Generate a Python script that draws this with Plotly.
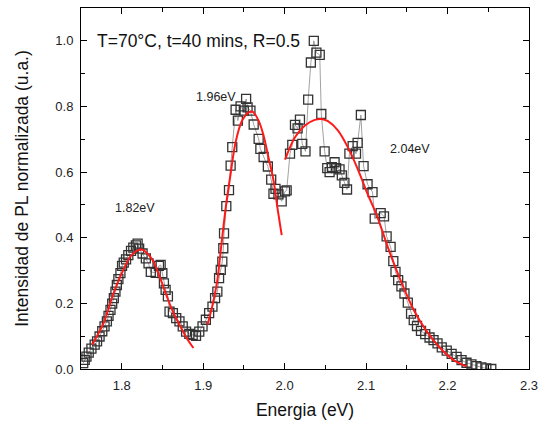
import plotly.graph_objects as go

# Measured PL data (energy in eV, normalized intensity)
energy = [1.7527, 1.7546, 1.7567, 1.7595, 1.7628, 1.7668, 1.7697, 1.7728, 1.7761, 1.7789,
          1.7818, 1.7838, 1.7862, 1.7883, 1.7903, 1.7923, 1.7940, 1.7959, 1.7984, 1.8004,
          1.8025, 1.8053, 1.8081, 1.8114, 1.8142, 1.8174, 1.8195, 1.8214, 1.8256, 1.8296,
          1.8329, 1.8357, 1.8417, 1.8457, 1.8478, 1.8499, 1.8518, 1.8539, 1.8567, 1.8587,
          1.8628, 1.8669, 1.8709, 1.8749, 1.8790, 1.8830, 1.8871, 1.8912, 1.8952, 1.8992,
          1.9033, 1.9073, 1.9114, 1.9146, 1.9174, 1.9195, 1.9216, 1.9235, 1.9247, 1.9256,
          1.9284, 1.9317, 1.9337, 1.9357, 1.9398, 1.9426, 1.9459, 1.9499, 1.9527, 1.9545,
          1.9580, 1.9620, 1.9681, 1.9702, 1.9742, 1.9794, 1.9835, 1.9863, 1.9888, 1.9924,
          1.9964, 2.0005, 2.0025, 2.0066, 2.0094, 2.0127, 2.0159, 2.0188, 2.0216, 2.0256,
          2.0289, 2.0322, 2.0358, 2.0390, 2.0431, 2.0450, 2.0491, 2.0523, 2.0552, 2.0580,
          2.0613, 2.0632, 2.0674, 2.0702, 2.0734, 2.0766, 2.0795, 2.0835, 2.0876, 2.0896,
          2.0936, 2.0969, 2.1018, 2.1079, 2.1106, 2.1179, 2.1220, 2.1252, 2.1301, 2.1334,
          2.1361, 2.1394, 2.1434, 2.1471, 2.1512, 2.1552, 2.1585, 2.1625, 2.1674, 2.1726,
          2.1779, 2.1828, 2.1877, 2.1929, 2.1990, 2.2050, 2.2111, 2.2172, 2.2233, 2.2294,
          2.2354, 2.2415, 2.2476, 2.2537]
intensity = [0.018, 0.028, 0.038, 0.050, 0.062, 0.074, 0.084, 0.099, 0.115, 0.130,
             0.145, 0.162, 0.180, 0.199, 0.216, 0.236, 0.256, 0.274, 0.292, 0.314,
             0.324, 0.334, 0.347, 0.360, 0.370, 0.377, 0.382, 0.367, 0.352, 0.337,
             0.322, 0.296, 0.293, 0.314, 0.317, 0.292, 0.261, 0.241, 0.221, 0.175,
             0.170, 0.155, 0.145, 0.130, 0.114, 0.107, 0.104, 0.101, 0.114, 0.130,
             0.150, 0.170, 0.190, 0.216, 0.236, 0.277, 0.302, 0.327, 0.368, 0.413,
             0.496, 0.545, 0.620, 0.676, 0.790, 0.757, 0.800, 0.787, 0.823, 0.797,
             0.787, 0.745, 0.701, 0.671, 0.646, 0.617, 0.577, 0.534, 0.549, 0.532,
             0.511, 0.541, 0.544, 0.656, 0.683, 0.744, 0.733, 0.760, 0.686, 0.663,
             0.821, 0.934, 1.000, 0.964, 0.957, 0.777, 0.663, 0.612, 0.600, 0.615,
             0.630, 0.612, 0.608, 0.590, 0.567, 0.547, 0.656, 0.679, 0.656, 0.689,
             0.774, 0.618, 0.563, 0.539, 0.458, 0.475, 0.465, 0.404, 0.372, 0.329,
             0.296, 0.271, 0.252, 0.230, 0.202, 0.169, 0.149, 0.131, 0.116, 0.106,
             0.096, 0.088, 0.078, 0.066, 0.056, 0.046, 0.037, 0.027, 0.019, 0.014,
             0.009, 0.005, 0.002, 0.000]

# Fitted peaks (red curves)
fit1_x = [1.7636, 1.7777, 1.7900, 1.8020, 1.8120, 1.8240, 1.8365, 1.8466, 1.8547, 1.8628, 1.8730, 1.8810, 1.8880]
fit1_y = [0.074, 0.140, 0.231, 0.302, 0.347, 0.364, 0.337, 0.281, 0.226, 0.175, 0.125, 0.089, 0.064]
fit2_x = [1.9053, 1.9110, 1.9174, 1.9216, 1.9278, 1.9337, 1.9398, 1.9478, 1.9560, 1.9608, 1.9680, 1.9742, 1.9800, 1.9863, 1.9916, 1.9964]
fit2_y = [0.135, 0.190, 0.271, 0.362, 0.494, 0.595, 0.691, 0.757, 0.782, 0.784, 0.757, 0.711, 0.646, 0.575, 0.484, 0.408]
fit3_x = [2.0005, 2.0127, 2.0249, 2.0370, 2.0450, 2.0532, 2.0653, 2.0775, 2.0896, 2.1018, 2.1139, 2.1280, 2.1422, 2.1585, 2.1747, 2.1909, 2.2071, 2.2233]
fit3_y = [0.638, 0.706, 0.742, 0.759, 0.762, 0.755, 0.727, 0.676, 0.610, 0.534, 0.463, 0.362, 0.271, 0.180, 0.114, 0.064, 0.028, 0.008]

peak_labels = ["1.82eV", "1.96eV", "2.04eV"]
peak_label_x = [1.8162, 1.9155, 2.1536]
peak_label_y = [0.492, 0.830, 0.669]

FONT = "Arial, Liberation Sans, sans-serif"

fig = go.Figure()
fig.add_trace(go.Scatter(
    x=energy, y=intensity, mode="lines+markers",
    line=dict(color="#8a8a8a", width=0.8),
    marker=dict(symbol="square-open", size=9, color="#333333", line=dict(width=1.3, color="#333333")),
    showlegend=False, hoverinfo="skip"))
for fx, fy in [(fit1_x, fit1_y), (fit2_x, fit2_y), (fit3_x, fit3_y)]:
    fig.add_trace(go.Scatter(x=fx, y=fy, mode="lines", line=dict(color="#ff1a1a", width=2, shape="spline"),
                             showlegend=False, hoverinfo="skip"))

for t, x, y in zip(peak_labels, peak_label_x, peak_label_y):
    fig.add_annotation(x=x, y=y, text=t, showarrow=False, font=dict(family=FONT, size=12.5, color="#222"))

fig.add_annotation(x=1.7677, y=1.0, text="T=70°C, t=40 mins, R=0.5", showarrow=False, xanchor="left",
                   font=dict(family=FONT, size=17.5, color="#111"))

axis_common = dict(showline=True, linecolor="black", linewidth=1, mirror="allticks", ticks="inside",
                   ticklen=6, tickcolor="black", showgrid=False, zeroline=False, ticklabelstandoff=4,
                   ticklabeloverflow="allow",
                   tickfont=dict(family=FONT, size=13, color="#222"))

fig.update_xaxes(range=[1.75, 2.3], dtick=0.1, tick0=1.8, tickformat=".1f",
                 minor=dict(dtick=0.05, ticks="inside", ticklen=4, tickcolor="black"),
                 title=dict(text="Energia (eV)", font=dict(family=FONT, size=17.5, color="#111"), standoff=12),
                 **axis_common)
fig.update_yaxes(range=[0, 1.1], dtick=0.2, tick0=0, tickformat=".1f",
                 minor=dict(dtick=0.1, ticks="inside", ticklen=4, tickcolor="black"),
                 title=dict(text="Intensidad de PL normalizada (u.a.)", font=dict(family=FONT, size=17.5, color="#111"), standoff=22),
                 **axis_common)

fig.update_layout(width=545, height=424, margin=dict(l=80.5, r=12, t=7.3, b=54.7),
                  plot_bgcolor="white", paper_bgcolor="white")

# remove the default page margin so the figure sits at the window origin
fig.write_html("out.html", config={"displayModeBar": False},
               post_script="document.body.style.margin='0';document.body.style.overflow='hidden';")
